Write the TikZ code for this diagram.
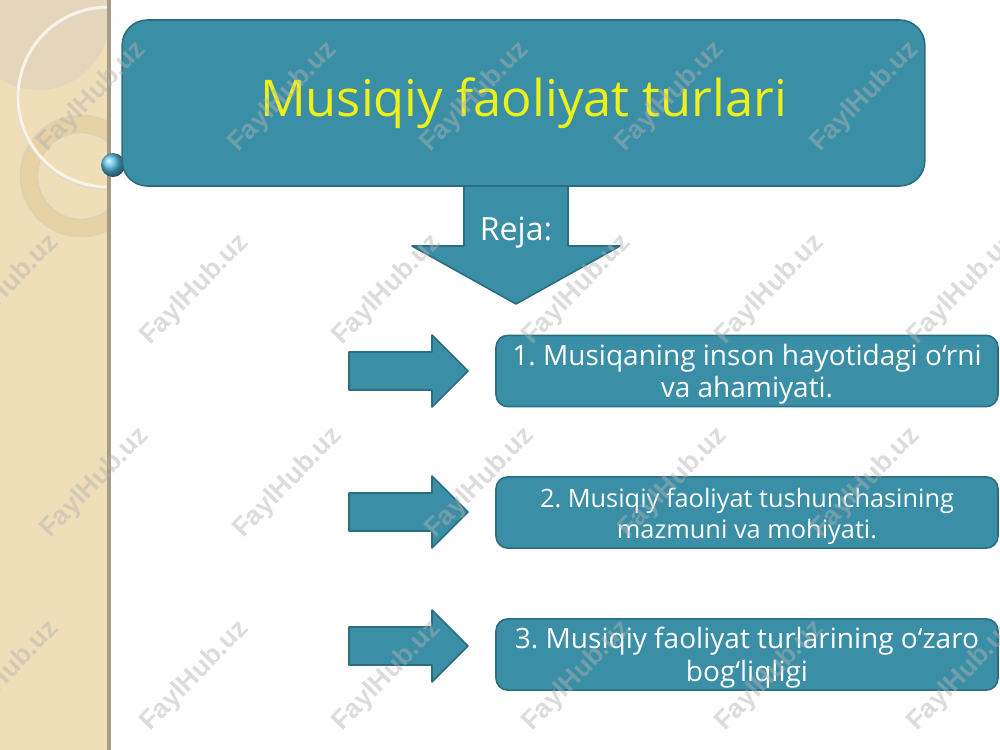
\documentclass[tikz,border=0pt]{standalone}
\usepackage{fontspec}
\setmainfont{Open Sans}
\newfontfamily\wmfont{Liberation Sans}
\frenchspacing
\usetikzlibrary{shadings}
\definecolor{boxfill}{HTML}{3A8EA6}
\definecolor{boxline}{HTML}{2A6E80}
\definecolor{beige}{HTML}{EFDFB9}
\definecolor{beigedark}{HTML}{E3D6BA}
\definecolor{ringcol}{HTML}{E6D2A4}
\definecolor{ringlight}{HTML}{FBF3DF}
\definecolor{titleyellow}{HTML}{EEF01A}
\definecolor{ballblue}{HTML}{55BDE3}
\tikzset{
  block/.style={fill=boxfill, draw=boxline, line width=1.2pt, line join=round},
  titlebox/.style={block, rounded corners=19pt, minimum width=602pt, minimum height=124.5pt,
    text=titleyellow, font=\fontsize{38}{44}\selectfont, inner sep=0pt},
  itembox/.style={block, rounded corners=9pt, minimum width=376.5pt, minimum height=53.5pt,
    text=white, align=center, inner sep=0pt},
  wm/.style={font=\wmfont\bfseries\fontsize{20}{20}\selectfont, text=black!30, opacity=0.45, rotate=46}
}
\begin{document}
\begin{tikzpicture}[x=0.75pt,y=-0.75pt]
\useasboundingbox (0,0) rectangle (1000,750);
\fill[white] (0,0) rectangle (1000,750);
% left decorative strip
\fill[beige] (0,0) rectangle (110,750);
\begin{scope}
  \clip (0,0) rectangle (110,750);
  \fill[beigedark] (38,18) circle (72);
  \draw[ringcol!90!black!70, line width=14pt] (81,176) circle (52);
  \draw[ringcol, line width=11pt] (81,176) circle (52);
  \draw[black!15, line width=3pt] (108,98) circle (90);
  \draw[ringlight, line width=2.2pt] (108,97) circle (90);
\end{scope}
\fill[beige!70!black] (107,0) rectangle (111,750);
\shade[ball color=ballblue] (113,165) circle (12);
% title
\node[titlebox] (title) at (523.5,103) {Musiqiy faoliyat turlari};
% down arrow
\draw[block] (464,186) -- (568,186) -- (568,246) -- (620,246) -- (516,304) -- (412,246) -- (464,246) -- cycle;
\node[text=white, font=\fontsize{24}{28}\selectfont] (reja) at (516,233) {Reja:};
% right arrows
\foreach \n/\y in {1/371, 2/512, 3/646}{
  \draw[block] (349,\y-19) -- (432,\y-19) -- (432,\y-36) -- (468,\y) -- (432,\y+36) -- (432,\y+19) -- (349,\y+19) -- cycle;
}
% item boxes
\node[itembox, font=\fontsize{21}{23.5}\selectfont] (item1) at (747,371) {\rule{0pt}{21pt}1. Musiqaning inson hayotidagi o‘rni\\va ahamiyati.};
\node[itembox, font=\fontsize{19}{23.5}\selectfont] (item2) at (747,512.5) {\rule{0pt}{20.5pt}2. Musiqiy faoliyat tushunchasining\\mazmuni va mohiyati.};
\node[itembox, font=\fontsize{21}{24.5}\selectfont] (item3) at (747,654.5) {\rule{0pt}{20.5pt}3. Musiqiy faoliyat turlarining o‘zaro\\bog‘liqligi};
% watermarks
\foreach \x/\y [count=\i] in {92/97, 283/97, 475/97, 670/97, 865/97,
  5/290, 195/290, 387/290, 577/290, 770/290, 962/290,
  95/483, 288/483, 480/483, 673/483, 866/483,
  5/676, 195/676, 387/676, 577/676, 770/676, 962/676}{
  \node[wm] (wm\i) at (\x,\y) {FaylHub.uz};
}
\end{tikzpicture}
\end{document}
